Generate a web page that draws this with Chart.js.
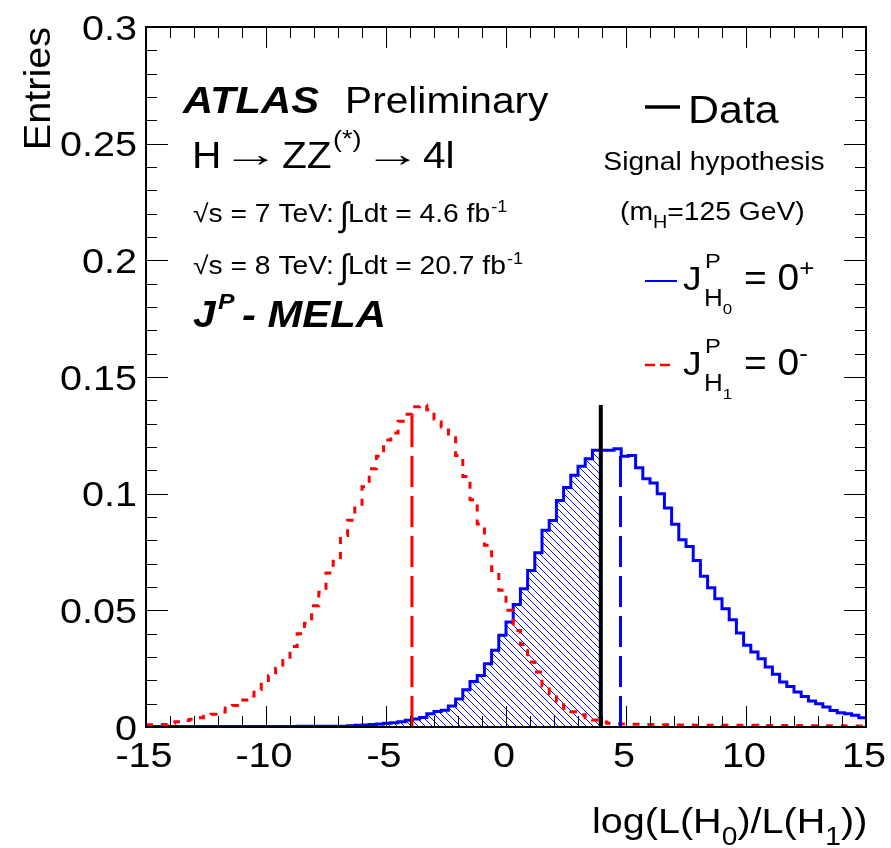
<!DOCTYPE html>
<html><head><meta charset="utf-8">
<script src="https://cdn.jsdelivr.net/npm/chart.js@4.4.1/dist/chart.umd.min.js"></script>
<style>html,body{margin:0;padding:0;background:#fff;}canvas{display:block;}</style>
</head><body>
<canvas id="c" width="891" height="848"></canvas>
<script>
// ---- binning ----
const X_MIN = -15, X_MAX = 15, BIN_WIDTH = 0.3;
// ---- J^P = 0+ (H0) normalised entries per bin ----
const hypothesisH0 = [
 0.0002,0.0002,0.0002,0.0002,0.0002,0.0002,0.0002,0.0002,0.0002,0.0002,
 0.0002,0.0002,0.0002,0.0002,0.0002,0.0002,0.0002,0.0002,0.0002,0.0002,
 0.0002,0.0003,0.0003,0.0003,0.0003,0.0003,0.0003,0.0003,0.0005,0.0007,
 0.0009,0.0011,0.0013,0.0016,0.0018,0.0022,0.0029,0.0034,0.0041,0.0057,
 0.0066,0.0072,0.0090,0.0120,0.0160,0.0195,0.0221,0.0271,0.0329,0.0393,
 0.0450,0.0525,0.0593,0.0671,0.0747,0.0843,0.0885,0.0971,0.1026,0.1079,
 0.1117,0.1150,0.1186,0.1186,0.1186,0.1193,0.1160,0.1164,0.1111,0.1064,
 0.1046,0.1000,0.0939,0.0869,0.0803,0.0774,0.0714,0.0646,0.0597,0.0550,
 0.0507,0.0460,0.0403,0.0350,0.0321,0.0293,0.0257,0.0226,0.0193,0.0174,
 0.0150,0.0131,0.0111,0.0100,0.0086,0.0071,0.0061,0.0057,0.0050,0.0040
];
// ---- J^P = 0- (H1) normalised entries per bin ----
const hypothesisH1 = [
 0.0010,0.0010,0.0011,0.0016,0.0023,0.0028,0.0033,0.0040,0.0046,0.0055,
 0.0064,0.0081,0.0092,0.0116,0.0133,0.0161,0.0199,0.0220,0.0252,0.0285,
 0.0345,0.0400,0.0445,0.0520,0.0577,0.0660,0.0726,0.0821,0.0886,0.0955,
 0.1030,0.1107,0.1160,0.1230,0.1260,0.1310,0.1340,0.1372,0.1379,0.1360,
 0.1320,0.1286,0.1240,0.1164,0.1074,0.0974,0.0870,0.0779,0.0671,0.0586,
 0.0500,0.0414,0.0354,0.0279,0.0236,0.0176,0.0143,0.0110,0.0080,0.0065,
 0.0053,0.0040,0.0030,0.0021,0.0016,0.0014,0.0013,0.0012,0.0012,0.0011,
 0.0011,0.0010,0.0010,0.0009,0.0009,0.0009,0.0008,0.0008,0.0008,0.0008,
 0.0007,0.0007,0.0007,0.0007,0.0007,0.0006,0.0006,0.0006,0.0006,0.0006,
 0.0006,0.0005,0.0005,0.0005,0.0005,0.0005,0.0005,0.0004,0.0004,0.0004
];
// ---- observed value and medians ----
const observed = [3.95, 0.138];      // [x, line height]
const medianH0 = [4.77, 0.1193];
const medianH1 = [-3.92, 0.137];
// ---- axes ----
const xTickValues = [-15,-10,-5,0,5,10,15];
const xTickLabels = ['-15','-10','-5','0','5','10','15'];
const yTickValues = [0,0.05,0.1,0.15,0.2,0.25,0.3];
const yTickLabels = ['0','0.05','0.1','0.15','0.2','0.25','0.3'];
const Y_MAX = 0.3;

function histPoints(vals){
  const pts = vals.map((v,i)=>({x: X_MIN + i*BIN_WIDTH, y: v}));
  pts.push({x: X_MAX, y: vals[vals.length-1]});
  return pts;
}
function hatchPoints(vals, xEnd){
  const pts = [];
  vals.forEach((v,i)=>{ const e = X_MIN + i*BIN_WIDTH; if (e < xEnd) pts.push({x:e, y:v}); });
  pts.push({x: xEnd, y: pts[pts.length-1].y});
  return pts;
}

const canvas = document.getElementById('c');
const ctx0 = canvas.getContext('2d');
const pc = document.createElement('canvas'); pc.width = 7; pc.height = 7;
const pctx = pc.getContext('2d');
pctx.strokeStyle = '#1010ff'; pctx.lineWidth = 1;
pctx.beginPath();
for (const o of [-7,0,7]) { pctx.moveTo(o,0); pctx.lineTo(o+7,7); }
pctx.stroke();
const hatch = ctx0.createPattern(pc,'repeat');

const SX = 1.13;
const FF = '"Liberation Sans", Arial, sans-serif';
function txt(ctx, s, x, y, size, opts={}){
  const style = opts.style || '';
  const align = opts.align || 'left';
  const sx = opts.sx || SX;
  ctx.save();
  ctx.font = style + ' ' + size + 'px ' + FF;
  ctx.textBaseline = 'alphabetic';
  ctx.textAlign = 'left';
  ctx.fillStyle = opts.color || '#000';
  const w = ctx.measureText(s).width * sx;
  const x0 = align==='left' ? x : align==='right' ? x - w : x - w/2;
  ctx.translate(x0, y); ctx.scale(sx, 1);
  ctx.fillText(s, 0, 0);
  ctx.restore();
  return x0 + w;
}

const rootStyle = {
  id: 'rootStyle',
  afterDraw(chart){
    const ctx = chart.ctx, xs = chart.scales.x, ys = chart.scales.y, a = chart.chartArea;
    ctx.save();
    // frame
    ctx.strokeStyle = '#000'; ctx.lineWidth = 2;
    ctx.strokeRect(a.left, a.top, a.right - a.left, a.bottom - a.top);
    // ticks
    ctx.lineWidth = 1; ctx.beginPath();
    for (let i = 0; i <= 30; i++) {
      const v = X_MIN + i;
      const px = Math.round(xs.getPixelForValue(v)) + 0.5;
      const L = (i % 5 === 0) ? 21 : 11;
      ctx.moveTo(px, a.bottom); ctx.lineTo(px, a.bottom - L);
      ctx.moveTo(px, a.top); ctx.lineTo(px, a.top + L);
    }
    for (let i = 0; i <= 30; i++) {
      const py = Math.round(ys.getPixelForValue(i * 0.01)) + 0.5;
      const L = (i % 5 === 0) ? 22 : 11;
      ctx.moveTo(a.left, py); ctx.lineTo(a.left + L, py);
      ctx.moveTo(a.right, py); ctx.lineTo(a.right - L, py);
    }
    ctx.stroke();
    // tick labels
    yTickValues.forEach((v,i)=> txt(ctx, yTickLabels[i], 137, ys.getPixelForValue(v) + 12.5, 35, {align:'right'}));
    xTickValues.forEach((v,i)=> txt(ctx, xTickLabels[i], xs.getPixelForValue(v) - 2, 767, 35, {align:'center'}));
    // axis titles
    let x = 592;
    x = txt(ctx, 'log(L(H', x, 833, 35);
    x = txt(ctx, '0', x, 845, 25);
    x = txt(ctx, ')/L(H', x, 833, 35);
    x = txt(ctx, '1', x, 845, 25);
    txt(ctx, '))', x, 833, 35);
    ctx.save(); ctx.translate(50, 27); ctx.rotate(-Math.PI/2);
    txt(ctx, 'Entries', 0, 0, 36, {align:'right', sx:1.1});
    ctx.restore();
    // ATLAS label
    txt(ctx, 'ATLAS', 183, 113, 36, {style:'italic bold', sx:1.16});
    txt(ctx, 'Preliminary', 345, 113, 36);
    txt(ctx, 'H', 192, 168, 36);
    txt(ctx, '\u2192', 251, 166, 36, {align:'center', sx:1.6});
    txt(ctx, 'ZZ', 282, 168, 36);
    txt(ctx, '(*)', 333, 147, 24);
    txt(ctx, '\u2192', 393, 166, 36, {align:'center', sx:1.6});
    txt(ctx, '4l', 423, 168, 36);
    // luminosity lines
    const lumi = [['7','4.6',222],['8','20.7',274]];
    lumi.forEach(([e,l,y])=>{
      let xx = txt(ctx, '\u221As = ' + e + ' TeV: ', 193, y, 25);
      xx = txt(ctx, '\u222B', xx - 2, y + 4, 34, {sx:1});
      xx = txt(ctx, 'Ldt = ' + l + ' fb', xx - 1, y, 25);
      txt(ctx, '-1', xx + 1, y - 10, 16);
    });
    txt(ctx, 'J', 193, 327, 36, {style:'italic bold'});
    txt(ctx, 'P', 218, 309, 22, {style:'italic bold'});
    txt(ctx, '- MELA', 242, 327, 36, {style:'italic bold', sx:1.16});
    // legend
    ctx.lineCap = 'butt';
    ctx.strokeStyle = '#000'; ctx.lineWidth = 3.5; ctx.setLineDash([]);
    ctx.beginPath(); ctx.moveTo(645,107); ctx.lineTo(680,107); ctx.stroke();
    txt(ctx, 'Data', 688, 123, 38);
    txt(ctx, 'Signal hypothesis', 714, 170, 25, {align:'center'});
    x = txt(ctx, '(m', 620, 220, 25);
    x = txt(ctx, 'H', x, 228, 17.5);
    txt(ctx, '=125 GeV)', x, 220, 25);
    ctx.strokeStyle = '#0000ff'; ctx.lineWidth = 2;
    ctx.beginPath(); ctx.moveTo(645,281); ctx.lineTo(677,281); ctx.stroke();
    ctx.strokeStyle = '#ff0000'; ctx.lineWidth = 2.5; ctx.setLineDash([10,5]);
    ctx.beginPath(); ctx.moveTo(645,365); ctx.lineTo(672,365); ctx.stroke();
    ctx.setLineDash([]);
    [[290,'0','+'],[375,'1','-']].forEach(([b,sub,sign])=>{
      txt(ctx, 'J', 683, b, 33);
      txt(ctx, 'P', 705, b - 22, 21);
      const hx = txt(ctx, 'H', 704, b + 16, 23);
      txt(ctx, sub, hx, b + 24, 15);
      const ex = txt(ctx, '= 0', 744, b, 36, {sx:1.08});
      txt(ctx, sign, ex, b - 14, 23);
    });
    ctx.restore();
  }
};

new Chart(canvas, {
  type: 'line',
  data: {
    datasets: [
      { label: 'hatch', data: hatchPoints(hypothesisH0, observed[0]), stepped: 'before',
        borderWidth: 0, borderColor: 'rgba(0,0,0,0)', backgroundColor: hatch, fill: 'origin',
        pointRadius: 0, order: 6 },
      { label: 'H0', data: histPoints(hypothesisH0), stepped: 'before', borderColor: '#0000ff',
        borderWidth: 3, fill: false, pointRadius: 0, order: 4 },
      { label: 'H1', data: histPoints(hypothesisH1), stepped: 'before', borderColor: '#ff0000',
        borderWidth: 3, borderDash: [7,8], fill: false, pointRadius: 0, order: 3 },
      { label: 'medH0', data: [{x: medianH0[0], y: 0}, {x: medianH0[0], y: medianH0[1]}],
        borderColor: '#0000ff', borderWidth: 3, borderDash: [31,9], pointRadius: 0, fill: false, order: 2 },
      { label: 'medH1', data: [{x: medianH1[0], y: 0}, {x: medianH1[0], y: medianH1[1]}],
        borderColor: '#ff0000', borderWidth: 3, borderDash: [31,9], pointRadius: 0, fill: false, order: 2 },
      { label: 'Data', data: [{x: observed[0], y: 0}, {x: observed[0], y: observed[1]}],
        borderColor: '#000', borderWidth: 4, pointRadius: 0, fill: false, order: 1 }
    ]
  },
  options: {
    responsive: false, animation: false, devicePixelRatio: 1,
    layout: { padding: { left: 146, right: 25, top: 27, bottom: 121 } },
    plugins: { legend: { display: false }, tooltip: { enabled: false } },
    scales: {
      x: { type: 'linear', min: X_MIN, max: X_MAX, display: false },
      y: { type: 'linear', min: 0, max: Y_MAX, display: false }
    }
  },
  plugins: [rootStyle]
});
</script>
</body></html>
